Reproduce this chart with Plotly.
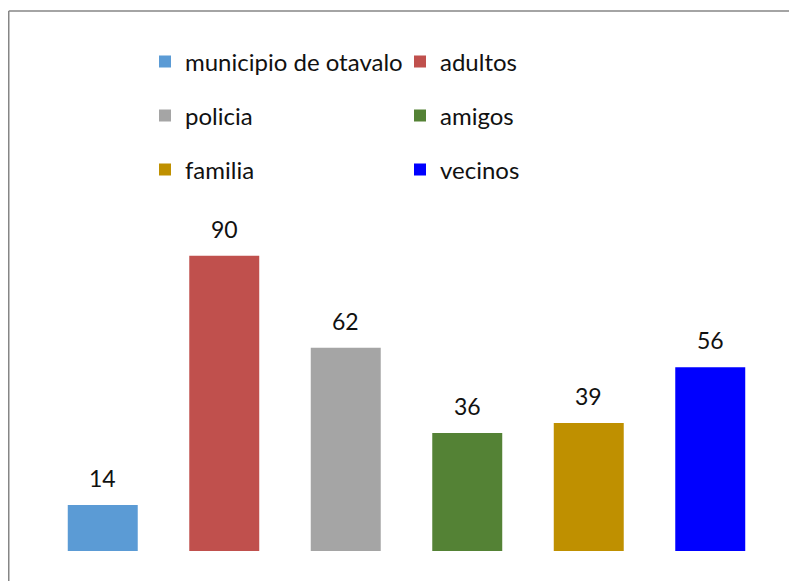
import plotly.graph_objects as go

categories = ["municipio de otavalo", "adultos", "policia", "amigos", "familia", "vecinos"]
values = [14, 90, 62, 36, 39, 56]
colors = ["#5b9bd5", "#c0504d", "#a5a5a5", "#548235", "#bf9000", "#0000ff"]
legend_groups = ["legend", "legend", "legend2", "legend2", "legend3", "legend3"]

W, H = 797, 581
L, R, T, B = 34, 34, 215, 38
pw, ph = W - L - R, H - T - B

fig = go.Figure()
for i, (cat, val, col, lg) in enumerate(zip(categories, values, colors, legend_groups)):
    fig.add_trace(go.Bar(
        x=[i], y=[val], name=cat, marker=dict(color=col, line=dict(width=0)),
        legend=lg, showlegend=True, width=0.576,
    ))
    fig.add_annotation(x=i, y=val, text=str(val), showarrow=False,
                       yshift=27, yanchor="middle",
                       font=dict(family="Lato, Open Sans, sans-serif", size=23, color="#111111"))

legend_common = dict(orientation="h", xanchor="left", yanchor="middle",
                     entrywidth=210, entrywidthmode="pixels",
                     font=dict(family="Lato, Open Sans, sans-serif", size=24, color="#111111"),
                     bgcolor="rgba(0,0,0,0)", borderwidth=0)
x_leg = (137 - L) / pw
def ypaper(py):
    return (H - B - py) / ph

fig.update_layout(
    width=W, height=H,
    margin=dict(l=L, r=R, t=T, b=B),
    plot_bgcolor="white", paper_bgcolor="white",
    bargap=0.424,
    xaxis=dict(range=[-0.5, 5.5], visible=False),
    yaxis=dict(range=[0, 100], visible=False),
    legend=dict(x=x_leg, y=ypaper(54), **legend_common),
    legend2=dict(x=x_leg, y=ypaper(108), **legend_common),
    legend3=dict(x=x_leg, y=ypaper(162), **legend_common),
    shapes=[
        dict(type="line", xref="paper", yref="paper",
             x0=(0.75 - L) / pw, x1=(W + 5 - L) / pw, y0=ypaper(3), y1=ypaper(3),
             line=dict(color="#868686", width=1.5)),
        dict(type="line", xref="paper", yref="paper",
             x0=(0.75 - L) / pw, x1=(0.75 - L) / pw, y0=ypaper(3), y1=ypaper(H + 5),
             line=dict(color="#868686", width=1.5)),
    ],
)

fig.write_html("out.html")
